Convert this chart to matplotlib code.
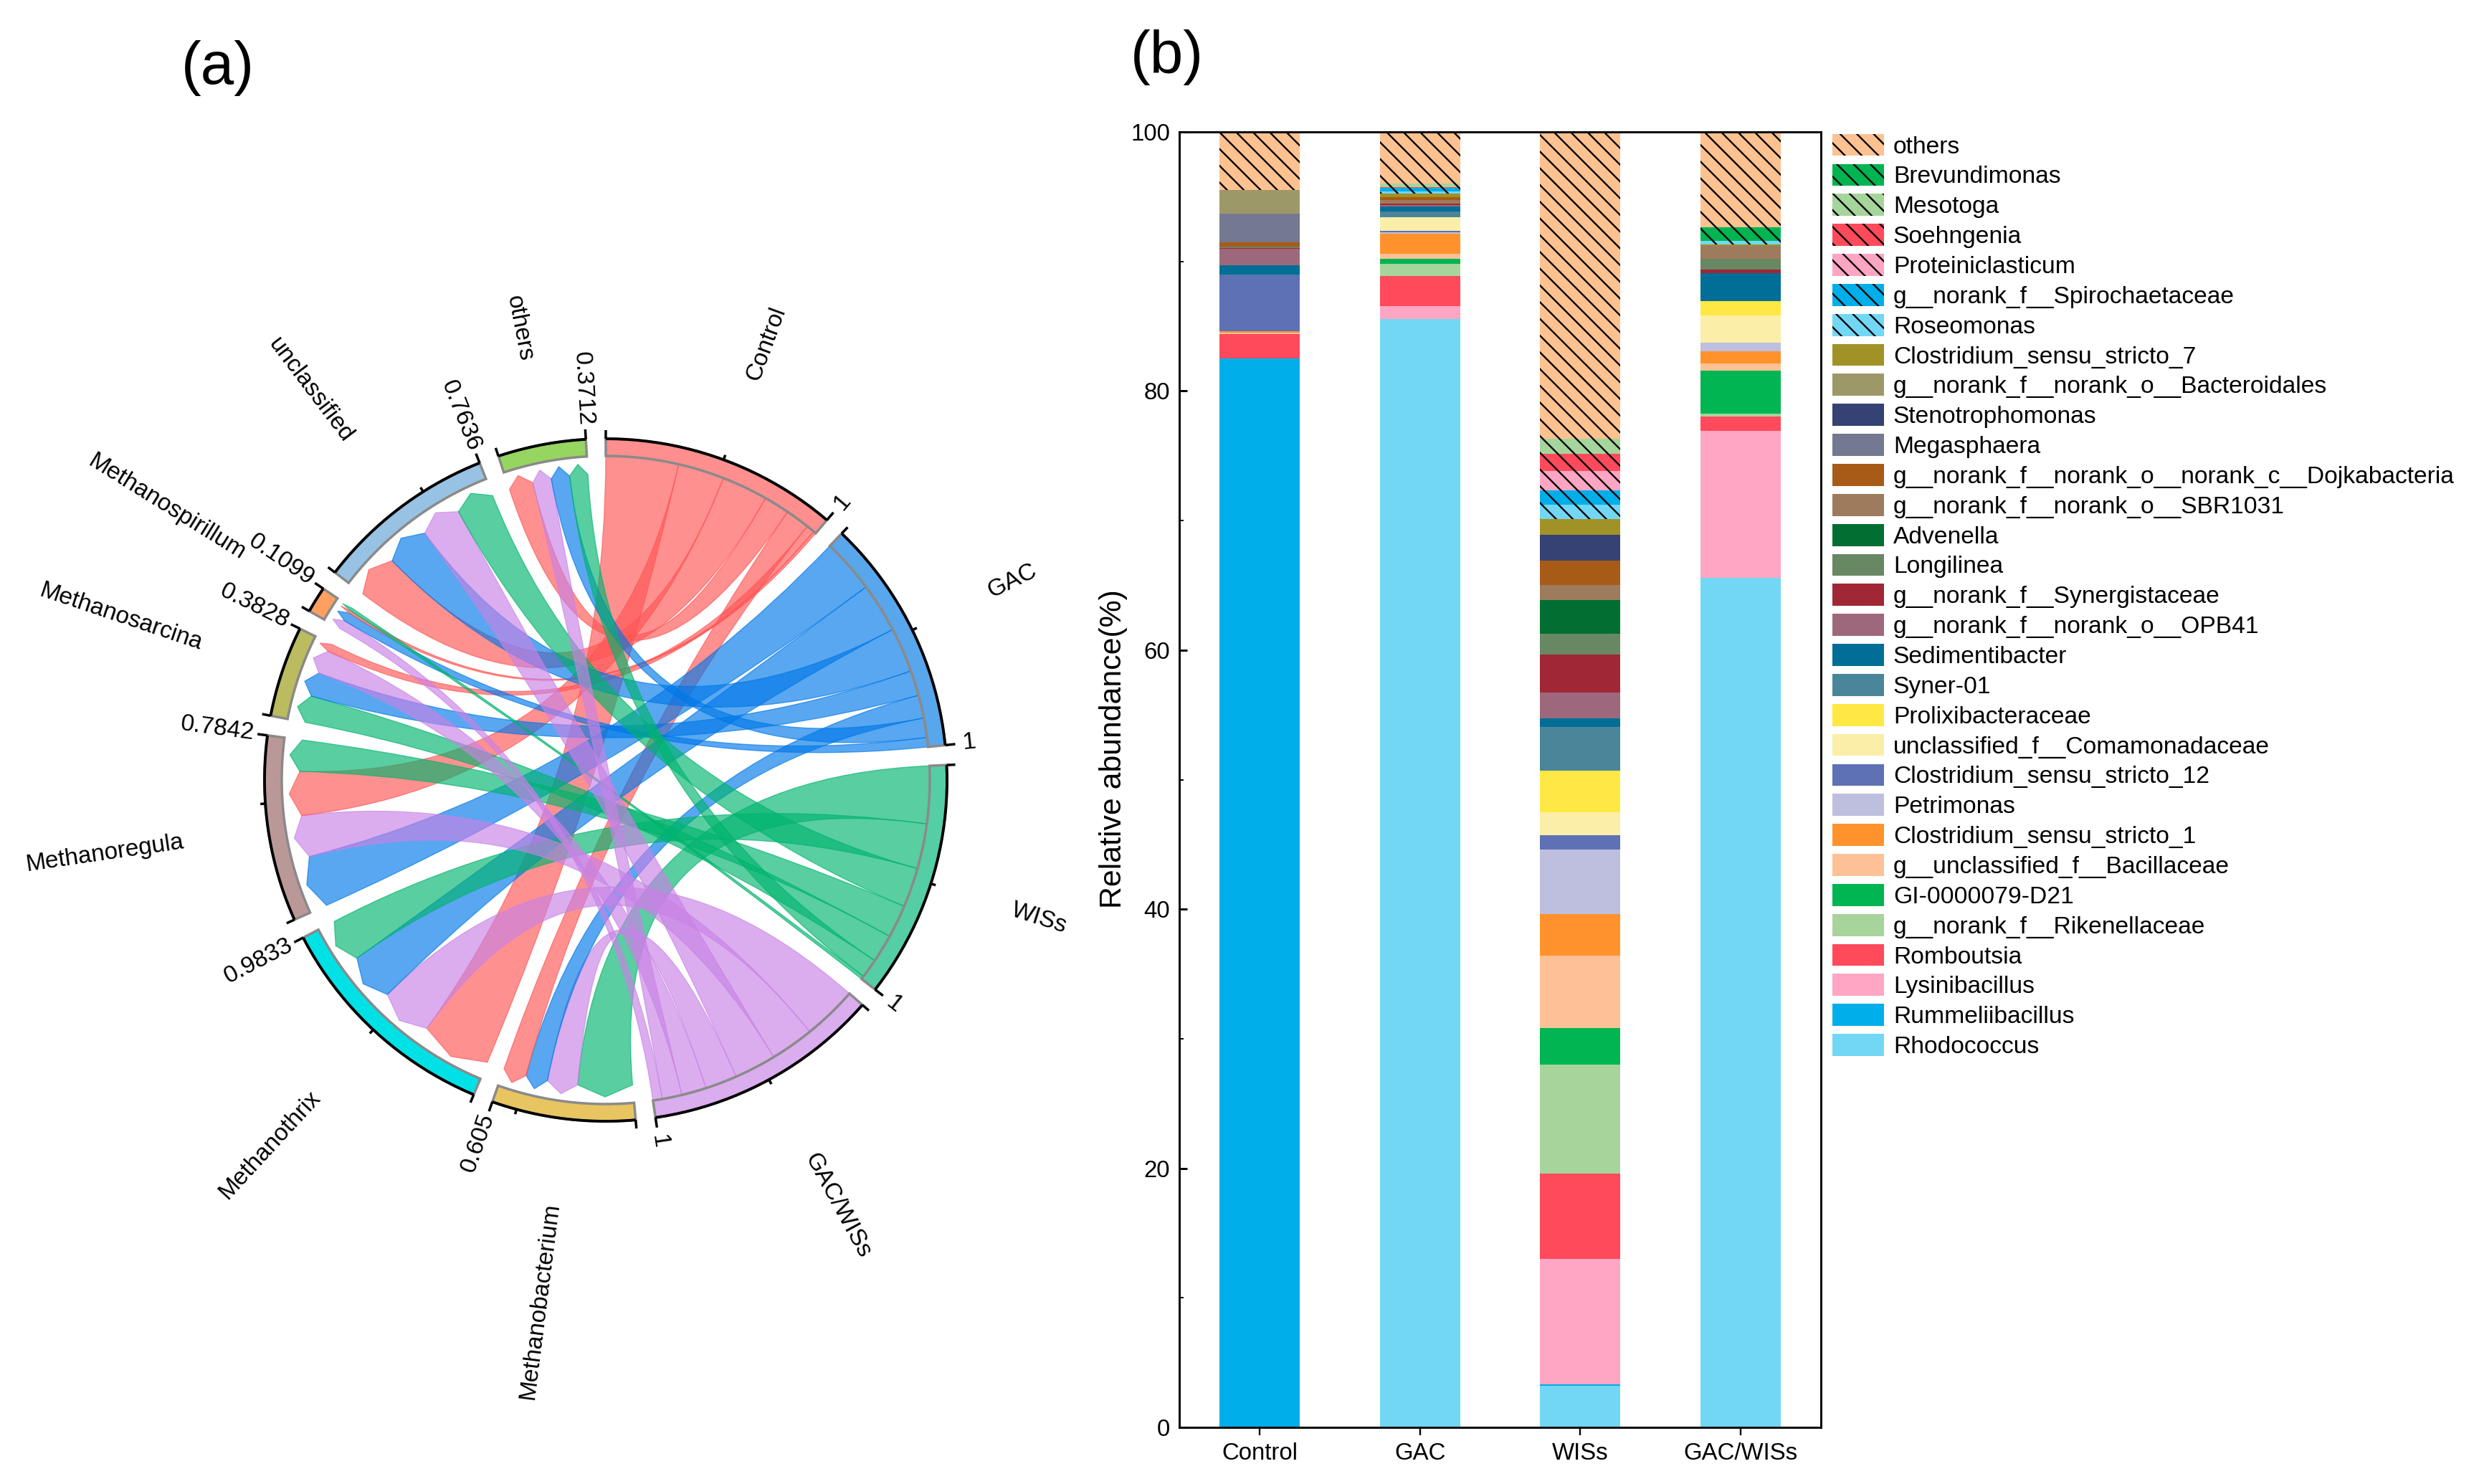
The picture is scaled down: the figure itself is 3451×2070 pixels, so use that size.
"""Two panel figure: (a) chord diagram of archaea vs reactors, (b) stacked bars of bacteria."""

import numpy as np
import matplotlib
matplotlib.use("Agg")
import matplotlib.pyplot as plt
from matplotlib.patches import PathPatch, Patch
from matplotlib.path import Path

plt.rcParams["font.family"] = "Liberation Sans"
plt.rcParams["hatch.linewidth"] = 1.2

# ---- panel (b) data ----
BAR_GROUPS = ["Control", "GAC", "WISs", "GAC/WISs"]

# bottom of the stack first
TAXA = [
    "Rhodococcus", "Rummeliibacillus", "Lysinibacillus", "Romboutsia",
    "g__norank_f__Rikenellaceae", "GI-0000079-D21", "g__unclassified_f__Bacillaceae",
    "Clostridium_sensu_stricto_1", "Petrimonas", "Clostridium_sensu_stricto_12",
    "unclassified_f__Comamonadaceae", "Prolixibacteraceae", "Syner-01",
    "Sedimentibacter", "g__norank_f__norank_o__OPB41", "g__norank_f__Synergistaceae",
    "Longilinea", "Advenella", "g__norank_f__norank_o__SBR1031",
    "g__norank_f__norank_o__norank_c__Dojkabacteria", "Megasphaera",
    "Stenotrophomonas", "g__norank_f__norank_o__Bacteroidales",
    "Clostridium_sensu_stricto_7", "Roseomonas", "g__norank_f__Spirochaetaceae",
    "Proteiniclasticum", "Soehngenia", "Mesotoga", "Brevundimonas", "others",
]
TAXA_COLORS = [
    "#72D7F5", "#00AEE9", "#FFA6C4", "#FF4A5C", "#A6D49B", "#00B552", "#FEC196",
    "#FF922C", "#BEBFDE", "#5F71B5", "#FAEEA8", "#FFE843", "#4A8699", "#006E96",
    "#9E687C", "#A02735", "#688763", "#016F32", "#9D7B5C", "#A85A17", "#747991",
    "#354273", "#9D9868", "#A09226", "#72D7F5", "#00AEE9", "#FFA5C4", "#FF4A5C",
    "#A5D59B", "#00B451", "#FEC190",
]
N_HATCHED = 7  # last seven taxa carry the diagonal hatch

CONTROL = [0.0, 82.52, 0.0, 1.86, 0.0, 0.0, 0.1, 0.14, 0.0, 4.33, 0.0, 0.0, 0.05,
           0.72, 1.25, 0.05, 0.1, 0.0, 0.03, 0.32, 2.23, 0.0, 1.8, 0.0, 0.0, 0.0,
           0.0, 0.0, 0.0, 0.0, 4.55]
GAC = [85.54, 0.0, 1.01, 2.35, 0.89, 0.44, 0.37, 1.56, 0.1, 0.13, 1.03, 0.0, 0.45,
       0.39, 0.1, 0.1, 0.0, 0.0, 0.3, 0.22, 0.0, 0.0, 0.0, 0.27, 0.13, 0.32, 0.0,
       0.05, 0.27, 0.0, 3.98]
WISS = [3.2, 0.1, 9.7, 6.6, 8.38, 2.85, 5.61, 3.19, 4.98, 1.11, 1.78, 3.21, 3.37,
        0.64, 1.98, 2.94, 1.61, 2.62, 1.16, 1.85, 0.0, 2.0, 0.0, 1.22, 1.11, 1.11,
        1.48, 1.36, 1.14, 0.0, 23.66]
GAC_WISS = [65.59, 0.0, 11.34, 1.12, 0.22, 3.29, 0.54, 0.97, 0.64, 0.0, 2.1, 1.11,
            0.0, 2.18, 0.0, 0.25, 0.88, 0.0, 0.97, 0.0, 0.0, 0.0, 0.0, 0.1, 0.29,
            0.0, 0.0, 0.0, 0.0, 1.04, 7.27]

# ---- panel (a) data ----
REACTORS = ["Control", "GAC", "WISs", "GAC/WISs"]
REACTOR_COLORS = ["#FF5555", "#0078E8", "#00B46E", "#C882E6"]
REACTOR_BAND_COLORS = ["#FF8E8E", "#58A6EB", "#55CDA5", "#DAADEE"]
ARCHAEA = ["Methanobacterium", "Methanothrix", "Methanoregula", "Methanosarcina",
           "Methanospirillum", "unclassified", "others"]
ARCHAEA_BAND_COLORS = ["#E8C560", "#00E1E6", "#BB9898", "#BBBB60", "#FFA060",
                       "#98C2E3", "#96D660"]
ARCHAEA_TOTALS = ["0.605", "0.9833", "0.7842", "0.3828", "0.1099", "0.7636", "0.3712"]

# abundance of each archaeon in Control, GAC, WISs, GAC/WISs
BACTERIUM = [0.107, 0.102, 0.255, 0.141]
THRIX = [0.322, 0.220, 0.200, 0.2413]
REGULA = [0.205, 0.240, 0.146, 0.1932]
SARCINA = [0.036, 0.112, 0.125, 0.1098]
SPIRILLUM = [0.012, 0.042, 0.014, 0.0419]
UNCLASSIFIED = [0.205, 0.198, 0.175, 0.1856]
OTHERS = [0.113, 0.086, 0.085, 0.0872]

# clockwise order of the ribbons inside each archaeon sector (reactor index)
BACTERIUM_ORDER = [2, 3, 1, 0]
THRIX_ORDER = [0, 3, 1, 2]
REGULA_ORDER = [1, 3, 0, 2]
SARCINA_ORDER = [2, 1, 3, 0]
SPIRILLUM_ORDER = [3, 1, 0, 2]
UNCLASSIFIED_ORDER = [0, 1, 3, 2]
OTHERS_ORDER = [0, 3, 1, 2]

# ---- layout in output pixels ----
DPI = 140
WIDTH, HEIGHT = 3451, 2070
CX, CY = 845, 1088
R_PX = 476
R_BAND = 452 / R_PX
R_TIP = 442 / R_PX
R_SHOULDER = 427 / R_PX
R_LABEL = 595 / R_PX
R_VALUE = 495 / R_PX
GAP_DEG = 3.35
DEG_PER_UNIT = (360 - 11 * GAP_DEG) / 8.0
AX_LEFT, AX_RIGHT, AX_TOP, AX_BOTTOM = 1645, 2540, 184, 1991


def point(theta_deg, radius):
    """Clockwise angle from north to x, y."""
    t = np.radians(theta_deg)
    return radius * np.sin(t), radius * np.cos(t)


def arc_points(t0, t1, radius, n=24):
    return [point(t, radius) for t in np.linspace(t0, t1, n)]


def add_band(ax, t0, t1, color):
    """Coloured outer band of a sector, black axis on the outside."""
    outer = arc_points(t0, t1, 1.0)
    inner = arc_points(t1, t0, R_BAND)
    ax.fill(*zip(*(outer + inner)), facecolor=color, edgecolor="#8A8A8A", lw=1.8, zorder=3)
    ax.plot(*zip(*outer), color="black", lw=2.0, zorder=4, solid_capstyle="butt")


def add_tick(ax, theta, length):
    x0, y0 = point(theta, 1.0)
    x1, y1 = point(theta, 1.0 + length / R_PX)
    ax.plot([x0, x1], [y0, y1], color="black", lw=1.8, zorder=4, solid_capstyle="butt")


def add_radial_text(ax, theta, radius, text, size):
    x, y = point(theta, radius)
    if theta < 180:
        rot, ha = 90 - theta, "left"
    else:
        rot, ha = 270 - theta, "right"
    ax.text(x, y, text, rotation=rot, rotation_mode="anchor", ha=ha, va="center",
            fontsize=size, zorder=5)


def add_ribbon(ax, a0, a1, s0, s1, color):
    """Ribbon from a reactor arc a0-a1 to an archaeon arrow head s0-s1."""
    verts = arc_points(a0, a1, R_BAND)
    codes = [Path.MOVETO] + [Path.LINETO] * (len(verts) - 1)
    verts += [(0, 0), point(s0, R_SHOULDER)]
    codes += [Path.CURVE3, Path.CURVE3]
    verts += [point((s0 + s1) / 2, R_TIP), point(s1, R_SHOULDER)]
    codes += [Path.LINETO, Path.LINETO]
    verts += [(0, 0), point(a0, R_BAND)]
    codes += [Path.CURVE3, Path.CURVE3]
    ax.add_patch(PathPatch(Path(verts, codes), facecolor=color, edgecolor=color,
                           alpha=0.65, lw=0.7, zorder=2))


def draw_chord(ax):
    values = np.array([BACTERIUM, THRIX, REGULA, SARCINA, SPIRILLUM, UNCLASSIFIED, OTHERS])
    orders = [BACTERIUM_ORDER, THRIX_ORDER, REGULA_ORDER, SARCINA_ORDER, SPIRILLUM_ORDER,
              UNCLASSIFIED_ORDER, OTHERS_ORDER]

    theta = 0.0
    reactor_start = {}
    for i, name in enumerate(REACTORS):
        t1 = theta + DEG_PER_UNIT
        add_band(ax, theta, t1, REACTOR_BAND_COLORS[i])
        reactor_start[i] = theta
        add_tick(ax, theta, 12)
        add_tick(ax, theta + 0.5 * DEG_PER_UNIT, 7)
        add_tick(ax, t1, 14)
        add_radial_text(ax, t1, R_VALUE + 0.01, "1", 17.3)
        add_radial_text(ax, (theta + t1) / 2, R_LABEL, name, 17.2)
        theta = t1 + GAP_DEG

    # each reactor arc holds its ribbons sorted from large to small
    slots = {}
    for j in range(len(REACTORS)):
        t = reactor_start[j]
        for i in np.argsort(-values[:, j]):
            w = values[i, j] * DEG_PER_UNIT
            slots[(i, j)] = (t, t + w)
            t += w

    for i, name in enumerate(ARCHAEA):
        total = float(ARCHAEA_TOTALS[i])
        t1 = theta + total * DEG_PER_UNIT
        add_band(ax, theta, t1, ARCHAEA_BAND_COLORS[i])
        add_tick(ax, theta, 12)
        for mark in np.arange(0.5, total, 0.5):
            add_tick(ax, theta + mark * DEG_PER_UNIT, 7)
        add_tick(ax, t1, 14)
        add_radial_text(ax, t1, R_VALUE, ARCHAEA_TOTALS[i], 17.3)
        add_radial_text(ax, (theta + t1) / 2, R_LABEL, name, 17.2)
        s = theta
        for j in orders[i]:
            w = values[i, j] * DEG_PER_UNIT
            a0, a1 = slots[(i, j)]
            add_ribbon(ax, a0, a1, s, s + w, REACTOR_COLORS[j])
            s += w
        theta = t1 + GAP_DEG


def draw_bars(ax):
    series = np.array([CONTROL, GAC, WISS, GAC_WISS])
    positions = np.arange(1, len(BAR_GROUPS) + 1)
    bottoms = np.zeros(len(BAR_GROUPS))
    handles = []
    for k, taxon in enumerate(TAXA):
        hatch = "\\\\" if k >= len(TAXA) - N_HATCHED else None
        ax.bar(positions, series[:, k], 0.5, bottom=bottoms, color=TAXA_COLORS[k],
               hatch=hatch, edgecolor="black" if hatch else TAXA_COLORS[k], lw=0)
        bottoms += series[:, k]
        handles.append(Patch(facecolor=TAXA_COLORS[k], hatch=hatch, lw=0,
                             edgecolor="black" if hatch else TAXA_COLORS[k], label=taxon))

    ax.set_xlim(0.5, 4.5)
    ax.set_ylim(0, 100)
    ax.set_xticks(positions, BAR_GROUPS)
    ax.set_yticks(np.arange(0, 101, 20))
    ax.set_yticks(np.arange(10, 100, 20), minor=True)
    ax.tick_params(axis="x", which="major", labelsize=17, width=1.2, length=5.7, pad=5)
    ax.tick_params(axis="y", which="major", labelsize=17, width=1.5, length=5.7, pad=6.5,
                   direction="in")
    ax.tick_params(axis="y", which="minor", width=1.0, length=3, direction="in")
    ax.set_ylabel("Relative abundance(%)", fontsize=22)
    ax.yaxis.set_label_coords(-0.08, 0.524)
    for spine in ax.spines.values():
        spine.set_linewidth(1.5)

    ax.legend(handles=handles[::-1], loc="upper left", bbox_to_anchor=(1.0145, 1.0),
              frameon=False, fontsize=17.3, borderaxespad=0, borderpad=0.08,
              handlelength=2.14, handleheight=1.03, handletextpad=0.39,
              labelspacing=0.237)


def main():
    fig = plt.figure(figsize=(WIDTH / DPI, HEIGHT / DPI), dpi=DPI)

    left, right = 0, 1640
    ax_a = fig.add_axes([left / WIDTH, 0, (right - left) / WIDTH, 1])
    ax_a.set_xlim((left - CX) / R_PX, (right - CX) / R_PX)
    ax_a.set_ylim((CY - HEIGHT) / R_PX, CY / R_PX)
    ax_a.axis("off")
    draw_chord(ax_a)

    ax_b = fig.add_axes([AX_LEFT / WIDTH, (HEIGHT - AX_BOTTOM) / HEIGHT,
                         (AX_RIGHT - AX_LEFT) / WIDTH, (AX_BOTTOM - AX_TOP) / HEIGHT])
    draw_bars(ax_b)

    fig.text(304 / WIDTH, 1 - 95 / HEIGHT, "(a)", fontsize=43, ha="center", va="center")
    fig.text(1628 / WIDTH, 1 - 80 / HEIGHT, "(b)", fontsize=43, ha="center", va="center")

    fig.savefig("out.png", dpi=DPI)
    plt.close(fig)


if __name__ == "__main__":
    main()
